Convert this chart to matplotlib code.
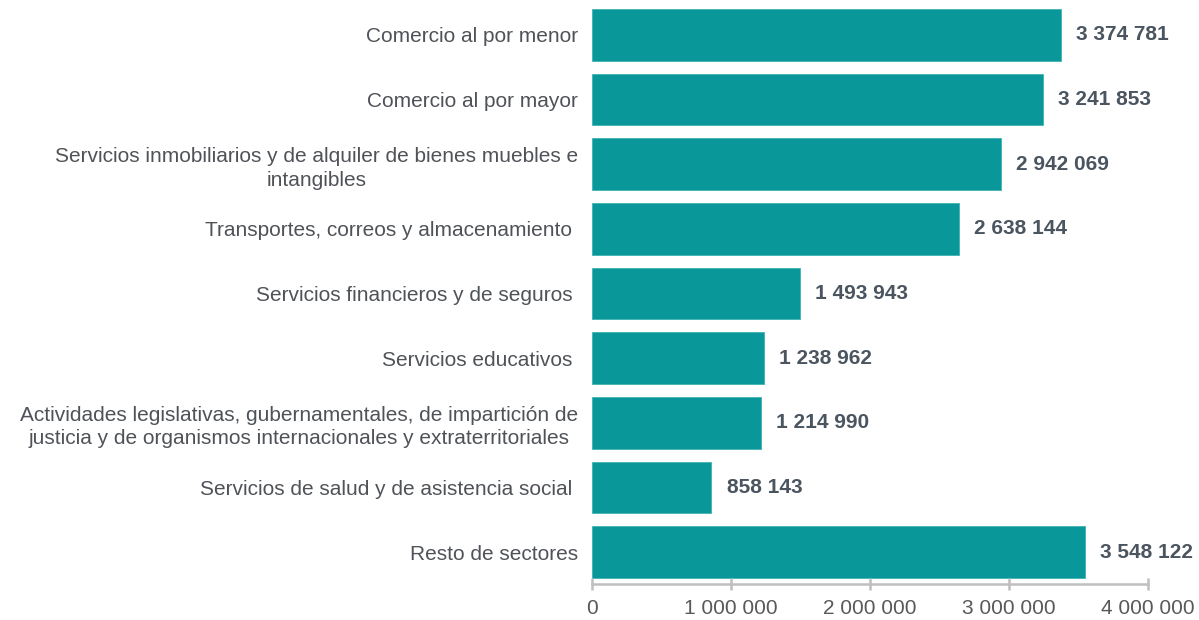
import matplotlib.pyplot as plt
from matplotlib.ticker import FuncFormatter

plt.rcParams['font.family'] = ['Liberation Sans', 'DejaVu Sans']

sectores = [
    "Comercio al por menor",
    "Comercio al por mayor",
    "Servicios inmobiliarios y de alquiler de bienes muebles e\nintangibles",
    "Transportes, correos y almacenamiento ",
    "Servicios financieros y de seguros ",
    "Servicios educativos ",
    "Actividades legislativas, gubernamentales, de impartición de\njusticia y de organismos internacionales y extraterritoriales",
    "Servicios de salud y de asistencia social ",
    "Resto de sectores",
]
valores = [3374781, 3241853, 2942069, 2638144, 1493943, 1238962, 1214990, 858143, 3548122]
ticks_x = [0, 1000000, 2000000, 3000000, 4000000]


def miles(v, pos=None):
    return "{:,}".format(int(v)).replace(",", " ")


fig = plt.figure(figsize=(11.99, 6.2), dpi=100)
ax = fig.add_axes([0.4937, 0.0581, 0.4638, 0.9379])

ypos = list(range(len(sectores)))
ax.barh(ypos, valores, height=0.8, color="#0A979A", edgecolor="#3FB3B5", linewidth=0.6)

for y, v in zip(ypos, valores):
    ax.annotate(miles(v), xy=(v, y), xytext=(11, 0), textcoords="offset points",
                ha="left", va="center", fontsize=15, fontweight="bold", color="#4A5560")

ax.set_xlim(0, 4000000)
ax.set_ylim(8.49, -0.5)
ax.set_xticks(ticks_x)
ax.xaxis.set_major_formatter(FuncFormatter(miles))
ax.set_yticks(ypos)
ax.set_yticklabels(sectores)
for lab in ax.get_yticklabels():
    lab.set_multialignment("center")
    lab.set_linespacing(1.3)

for s in ["top", "right", "left"]:
    ax.spines[s].set_visible(False)
ax.spines["bottom"].set_color("#BFBFBF")
ax.spines["bottom"].set_linewidth(1.8)

ax.tick_params(axis="y", length=0, pad=10, labelsize=15, labelcolor="#4F5358")
ax.tick_params(axis="x", direction="inout", length=9, width=1.8, color="#BFBFBF",
               labelsize=15, labelcolor="#595959", pad=6)

fig.savefig("out.png", dpi=100)
